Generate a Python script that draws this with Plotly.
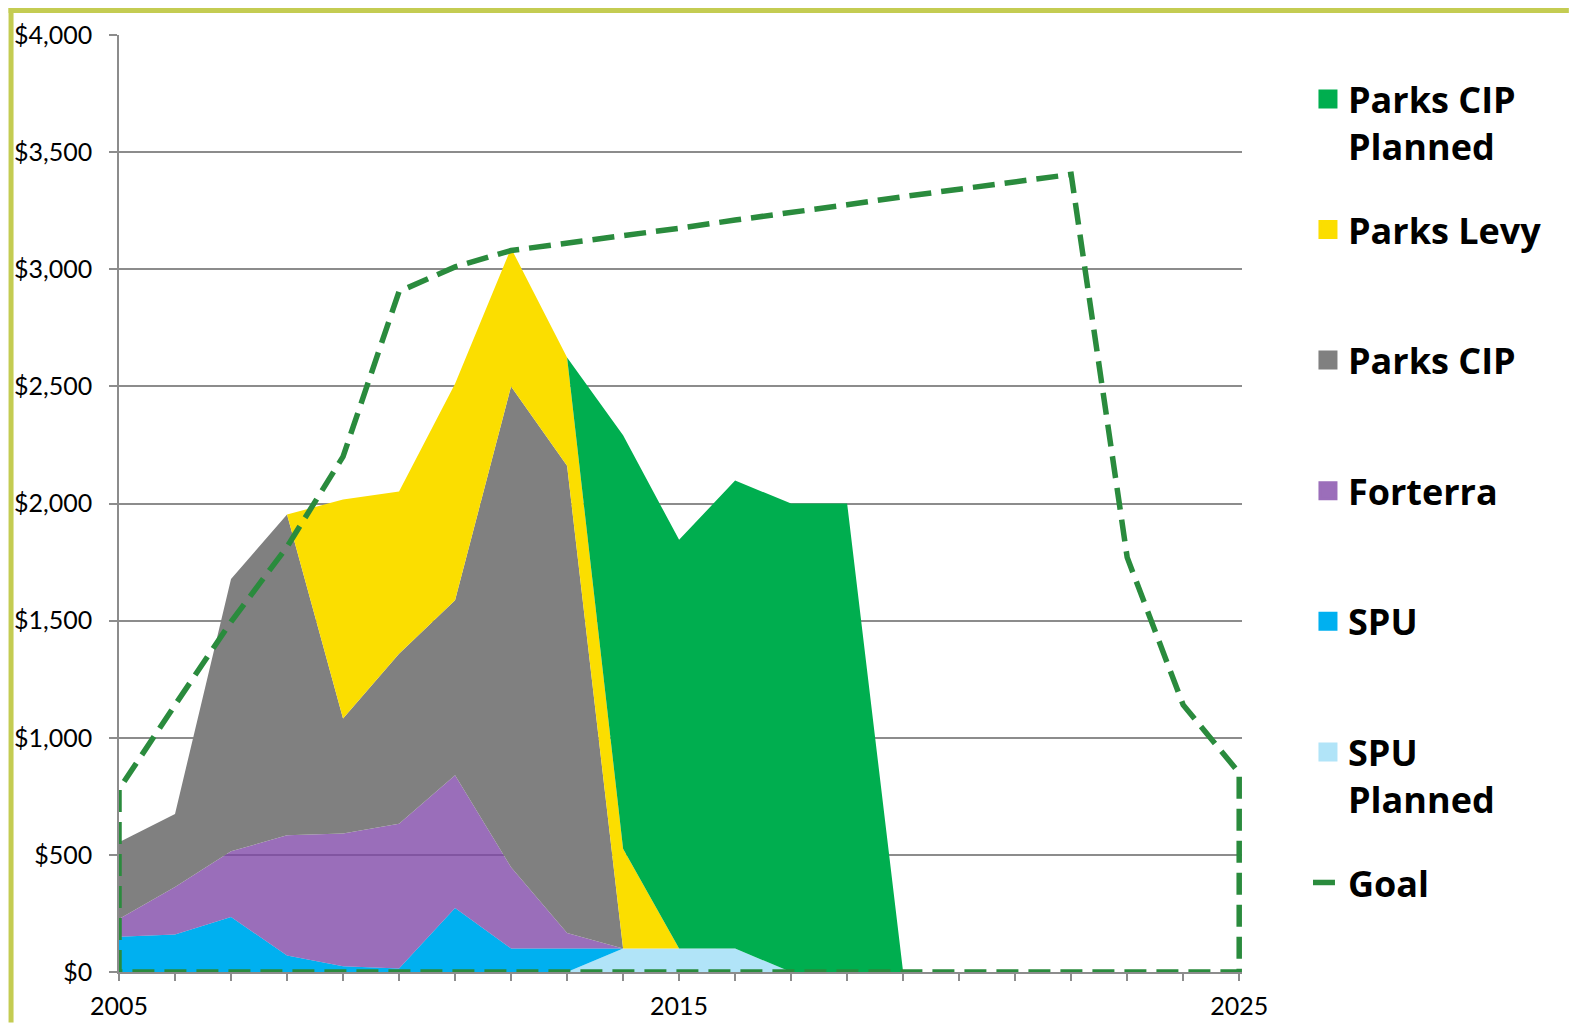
import plotly.graph_objects as go

# ---------------- data ----------------
area_years = list(range(2005, 2020))
spu_planned = [0, 0, 0, 0, 0, 0, 0, 0, 0, 100, 100, 100, 0, 0, 0]
spu = [150, 160, 235, 70, 25, 15, 273, 100, 100, 0, 0, 0, 0, 0, 0]
forterra = [76, 203, 280, 514, 566, 618, 567, 347, 67, 0, 0, 0, 0, 0, 0]
parks_cip = [328, 312, 1163, 1369, 491, 726, 747, 2053, 1994, 0, 0, 0, 0, 0, 0]
parks_levy = [0, 0, 0, 0, 935, 692, 924, 590, 462, 426, 0, 0, 0, 0, 0]
parks_cip_planned = [0, 0, 0, 0, 0, 0, 0, 0, 0, 1765, 1745, 1998, 2000, 2000, 0]

goal_years = list(range(2005, 2026))
goal = [780, 1140, 1495, 1815, 2200, 2905, 3010, 3080, 3110, 3140, 3175,
        3210, 3240, 3275, 3310, 3340, 3375, 3405, 1770, 1140, 850]

y_tickvals = [0, 500, 1000, 1500, 2000, 2500, 3000, 3500, 4000]
y_ticktext = ["$0", "$500", "$1,000", "$1,500", "$2,000", "$2,500", "$3,000", "$3,500", "$4,000"]
x_tickvals = [2005, 2015, 2025]
x_ticktext = ["2005", "2015", "2025"]

# ---------------- styles ----------------
C_SPU_PL = "#B1E4F8"
C_SPU = "#00B0F0"
C_FORT = "rgba(126,69,167,0.78)"
C_FORT_LEG = "#9B6EBA"
C_CIP = "#808080"
C_LEVY = "#FBDE00"
C_CIPPL = "#00AE4F"
C_GOAL = "#2A8B3D"
GRID = "#8C8C8C"
BORDER = "#C4CC52"

# the page body has an 8px margin: work in page pixels and subtract it
OFF = 8
W, H = 1577 - 2 * OFF, 1031 - 2 * OFF
ML, MT = 118.5 - OFF, 35 - OFF
MR = W - (1242 - OFF)
MB = H - (972.5 - OFF)
PW, PH = W - ML - MR, H - MT - MB

fig = go.Figure()

stack = [
    ("SPU Planned", spu_planned, C_SPU_PL),
    ("SPU", spu, C_SPU),
    ("Forterra", forterra, C_FORT),
    ("Parks CIP", parks_cip, C_CIP),
    ("Parks Levy", parks_levy, C_LEVY),
    ("Parks CIP Planned", parks_cip_planned, C_CIPPL),
]
for name, vals, col in stack:
    fig.add_trace(go.Scatter(
        x=area_years, y=vals, name=name, stackgroup="one", mode="none",
        fillcolor=col, showlegend=False, hoverinfo="x+y+name"))

# legend entries (square swatches)
legend_items = [
    ("Parks CIP<br>Planned", C_CIPPL),
    ("Parks Levy<br> ", C_LEVY),
    ("Parks CIP<br> ", C_CIP),
    ("Forterra<br> ", C_FORT_LEG),
    ("SPU<br> ", C_SPU),
    ("SPU<br>Planned", C_SPU_PL),
]
for i, (label, col) in enumerate(legend_items):
    fig.add_trace(go.Scatter(
        x=[None], y=[None], mode="markers", name=label, legendgroup=f"g{i}",
        marker=dict(symbol="square", size=16, color=col, line=dict(color=col, width=3)),
        showlegend=True))

# goal: closed dashed outline
gx = [goal_years[0]] + goal_years + [goal_years[-1], goal_years[0]]
gy = [0] + goal + [0, 0]
fig.add_trace(go.Scatter(
    x=gx, y=gy, mode="lines", name="Goal<br> ", legendgroup="g_goal",
    line=dict(color=C_GOAL, width=5.5, dash="22px,10px"), showlegend=True))

# helpers: page pixel -> paper fraction
def px_x(p):
    return (p - OFF - ML) / PW

def px_y(p):
    return (H - MB - (p - OFF)) / PH

# olive border strips along the top and left edges of the figure
fig.add_shape(type="rect", xref="paper", yref="paper",
              x0=px_x(OFF), x1=px_x(OFF + W), y0=px_y(OFF + 5), y1=px_y(OFF),
              fillcolor=BORDER, line=dict(width=0), layer="above")
fig.add_shape(type="rect", xref="paper", yref="paper",
              x0=px_x(OFF), x1=px_x(OFF + 5), y0=px_y(OFF + H), y1=px_y(OFF),
              fillcolor=BORDER, line=dict(width=0), layer="above")

fig.update_layout(
    width=W, height=H,
    margin=dict(l=ML, r=MR, t=MT, b=MB, pad=0, autoexpand=False),
    plot_bgcolor="white", paper_bgcolor="white",
    font=dict(family="Lato", size=25, color="black"),
    showlegend=True,
    legend=dict(
        x=px_x(1308), y=px_y(69), xanchor="left", yanchor="top",
        font=dict(family="Open Sans", size=36, color="black", weight="bold"),
        traceorder="grouped", tracegroupgap=34, itemwidth=30, valign="top",
        bgcolor="rgba(0,0,0,0)", borderwidth=0,
    ),
    xaxis=dict(
        range=[2005, 2025.05], tickvals=x_tickvals, ticktext=x_ticktext,
        automargin=False,
        showgrid=False, zeroline=False, showline=True, linecolor=GRID, linewidth=1.5,
        ticks="outside", ticklen=7, tickwidth=1.5, tickcolor=GRID,
        minor=dict(dtick=1, tick0=2005, ticks="outside", ticklen=7, tickwidth=1.5,
                   tickcolor=GRID, showgrid=False),
        ticklabelstandoff=4,
        tickfont=dict(family="Lato", size=25, color="black"),
    ),
    yaxis=dict(
        range=[0, 4000], tickvals=y_tickvals, ticktext=y_ticktext,
        automargin=False,
        showgrid=True, gridcolor=GRID, gridwidth=1.5, zeroline=False,
        showline=True, linecolor=GRID, linewidth=1.5,
        ticks="outside", ticklen=8, tickwidth=1.5, tickcolor=GRID,
        ticklabelstandoff=12,
        tickfont=dict(family="Lato", size=25, color="black"),
    ),
)

fig.write_html("out.html")
